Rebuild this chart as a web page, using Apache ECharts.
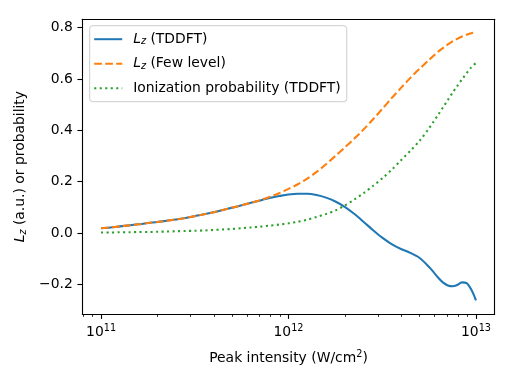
<!DOCTYPE html>
<html>
<head>
<meta charset="utf-8">
<script src="https://cdn.jsdelivr.net/npm/echarts@6/dist/echarts.min.js"></script>
<style>html,body{margin:0;padding:0;background:#fff;}#c{width:512px;height:384px;}</style>
</head>
<body>
<div id="c"></div>
<script>
// log10 of peak intensity (W/cm^2)
const logIntensity = [11.00, 11.05, 11.10, 11.15, 11.20, 11.25, 11.30, 11.35, 11.40, 11.45,
  11.50, 11.55, 11.60, 11.65, 11.70, 11.75, 11.80, 11.85, 11.90, 11.95,
  12.00, 12.05, 12.10, 12.15, 12.20, 12.25, 12.30, 12.35, 12.40, 12.45,
  12.50, 12.55, 12.60, 12.65, 12.70, 12.75, 12.775, 12.80, 12.825, 12.85,
  12.875, 12.90, 12.925, 12.95, 12.975, 13.00];
const lzTDDFT = [0.019, 0.022, 0.026, 0.030, 0.034, 0.039, 0.043, 0.048, 0.053, 0.059,
  0.066, 0.073, 0.081, 0.090, 0.099, 0.108, 0.118, 0.127, 0.137, 0.144,
  0.150, 0.153, 0.153, 0.148, 0.138, 0.123, 0.102, 0.075, 0.044, 0.012,
  -0.018, -0.043, -0.062, -0.077, -0.097, -0.132, -0.153, -0.175, -0.193, -0.204,
  -0.207, -0.202, -0.192, -0.195, -0.220, -0.262];
const lzFewLevel = [0.019, 0.022, 0.026, 0.030, 0.034, 0.039, 0.043, 0.048, 0.053, 0.059,
  0.066, 0.073, 0.081, 0.090, 0.099, 0.108, 0.118, 0.128, 0.141, 0.155,
  0.172, 0.190, 0.212, 0.238, 0.268, 0.300, 0.333, 0.367, 0.403, 0.442,
  0.483, 0.525, 0.565, 0.604, 0.640, 0.674, 0.691, 0.707, 0.721, 0.734,
  0.746, 0.756, 0.765, 0.772, 0.778, 0.782];
const ionProb = [0.002, 0.002, 0.003, 0.003, 0.004, 0.004, 0.005, 0.006, 0.007, 0.008,
  0.009, 0.010, 0.012, 0.014, 0.016, 0.019, 0.022, 0.025, 0.029, 0.033,
  0.038, 0.044, 0.052, 0.063, 0.074, 0.088, 0.107, 0.130, 0.155, 0.183,
  0.213, 0.246, 0.283, 0.320, 0.360, 0.408, 0.435, 0.462, 0.490, 0.518,
  0.546, 0.572, 0.598, 0.622, 0.645, 0.662];
const seriesNames = ['Lz (TDDFT)', 'Lz (Few level)', 'Ionization probability (TDDFT)'];
const xMajorTicks = [11, 12, 13];
const xMinorTickValues = [8e10, 9e10, 2e11, 3e11, 4e11, 5e11, 6e11, 7e11, 8e11, 9e11,
  2e12, 3e12, 4e12, 5e12, 6e12, 7e12, 8e12, 9e12];
const yTicks = [-0.2, 0.0, 0.2, 0.4, 0.6, 0.8];

const FONT = 'DejaVu Sans';
const FS = 13.9, FS_SMALL = 9.7;
const colors = ['#1f77b4', '#ff7f0e', '#2ca02c'];
const LW = 2.08;
const xMin = 10.9, xMax = 13.1, yMin = -0.315, yMax = 0.832;

function pairs(ys) { return logIntensity.map((x, i) => [x, ys[i]]); }
const minorLog = xMinorTickValues.map(v => Math.log10(v));

const supRich = {
  b: { fontFamily: FONT, fontSize: FS, color: '#000' },
  s: { fontFamily: FONT, fontSize: FS_SMALL, color: '#000', padding: [0, 0, 8, 0] }
};
const lzRich = {
  i: { fontFamily: FONT, fontSize: FS, fontStyle: 'italic', color: '#000' },
  z: { fontFamily: FONT, fontSize: FS_SMALL, fontStyle: 'italic', color: '#000', padding: [5, 0, 0, 0] },
  n: { fontFamily: FONT, fontSize: FS, color: '#000' }
};

const chart = echarts.init(document.getElementById('c'), null, { renderer: 'canvas' });
chart.setOption({
  animation: false,
  backgroundColor: '#fff',
  grid: { left: 82.3, right: 17.3, top: 19.3, bottom: 70, containLabel: false },
  legend: {
    data: seriesNames,
    orient: 'vertical',
    left: 89.7, top: 25.7,
    padding: [6.5, 6, 6.5, 3.5],
    itemWidth: 28, itemHeight: 16, itemGap: 10,
    backgroundColor: 'rgba(255,255,255,0.8)',
    borderColor: '#cccccc', borderWidth: 1, borderRadius: 3,
    selectedMode: false,
    itemStyle: { opacity: 0 },
    textStyle: { fontFamily: FONT, fontSize: FS, color: '#000', padding: [0, 0, 0, 6], rich: lzRich },
    formatter: function (name) {
      if (name.indexOf('Lz') === 0) return '{i|L}{z|z}{n|' + name.slice(2) + '}';
      return '{n|' + name + '}';
    },
    z: 10
  },
  xAxis: [
    {
      type: 'value', min: xMin, max: xMax, position: 'bottom',
      name: 'Peak intensity (W/cm{s|2})', nameLocation: 'middle', nameGap: 35,
      nameTextStyle: { fontFamily: FONT, fontSize: FS, color: '#000', rich: { s: supRich.s } },
      axisLine: { show: true, onZero: false, lineStyle: { color: '#000', width: 1.1 } },
      axisTick: { show: true, inside: false, length: 4.9, customValues: xMajorTicks, lineStyle: { color: '#000', width: 1.1 } },
      axisLabel: {
        show: true, margin: 9, customValues: xMajorTicks,
        formatter: function (v) { return '{b|10}{s|' + Math.round(v) + '}'; },
        rich: supRich
      },
      splitLine: { show: false }
    },
    {
      type: 'value', min: xMin, max: xMax, position: 'top',
      axisLine: { show: true, onZero: false, lineStyle: { color: '#000', width: 1.1 } },
      axisTick: { show: false }, axisLabel: { show: false }, splitLine: { show: false }
    },
    {
      type: 'value', min: xMin, max: xMax, position: 'bottom',
      axisLine: { show: false, onZero: false },
      axisTick: { show: true, inside: false, length: 2.8, customValues: minorLog, lineStyle: { color: '#000', width: 0.85 } },
      axisLabel: { show: false }, splitLine: { show: false }
    }
  ],
  yAxis: [
    {
      type: 'value', min: yMin, max: yMax, position: 'left',
      name: '{i|L}{z|z}{n| (a.u.) or probability}', nameLocation: 'middle', nameGap: 47,
      nameRotate: 90,
      nameTextStyle: { fontFamily: FONT, fontSize: FS, color: '#000', rich: lzRich },
      axisLine: { show: true, onZero: false, lineStyle: { color: '#000', width: 1.1 } },
      axisTick: { show: true, inside: false, length: 4.9, customValues: yTicks, lineStyle: { color: '#000', width: 1.1 } },
      axisLabel: {
        show: true, margin: 9.5, customValues: yTicks,
        fontFamily: FONT, fontSize: FS, color: '#000',
        formatter: function (v) { return v.toFixed(1).replace('-', '\u2212'); }
      },
      splitLine: { show: false }
    },
    {
      type: 'value', min: yMin, max: yMax, position: 'right',
      axisLine: { show: true, onZero: false, lineStyle: { color: '#000', width: 1.1 } },
      axisTick: { show: false }, axisLabel: { show: false }, splitLine: { show: false }
    }
  ],
  series: [
    {
      name: seriesNames[0], type: 'line', xAxisIndex: 0, yAxisIndex: 0,
      data: pairs(lzTDDFT), showSymbol: false, symbol: 'none', smooth: 0.3,
      lineStyle: { color: colors[0], width: LW, type: 'solid' }, itemStyle: { color: colors[0] }, z: 3
    },
    {
      name: seriesNames[1], type: 'line', xAxisIndex: 0, yAxisIndex: 0,
      data: pairs(lzFewLevel), showSymbol: false, symbol: 'none', smooth: 0.3,
      lineStyle: { color: colors[1], width: LW, type: [7.7, 3.3] }, itemStyle: { color: colors[1] }, z: 4
    },
    {
      name: seriesNames[2], type: 'line', xAxisIndex: 0, yAxisIndex: 0,
      data: pairs(ionProb), showSymbol: false, symbol: 'none', smooth: 0.3,
      lineStyle: { color: colors[2], width: LW, type: [2.1, 3.4] }, itemStyle: { color: colors[2] }, z: 5
    }
  ]
});
</script>
</body>
</html>
